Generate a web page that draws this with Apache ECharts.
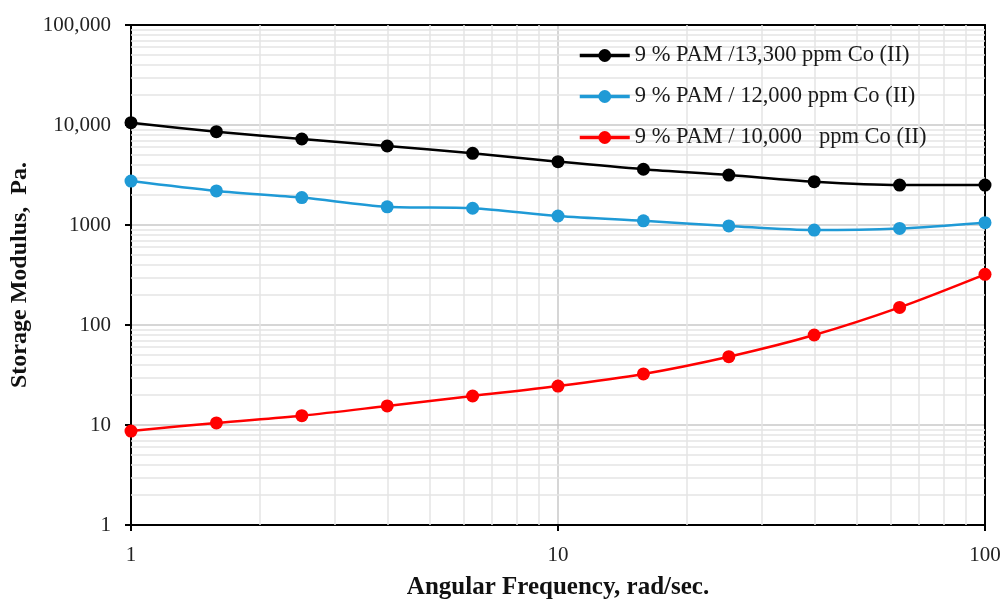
<!DOCTYPE html>
<html>
<head>
<meta charset="utf-8">
<script src="https://cdn.jsdelivr.net/npm/echarts@6/dist/echarts.min.js"></script>
<style>
  html, body { margin: 0; padding: 0; background: #fff; }
  #chart { width: 1003px; height: 599px; }
</style>
</head>
<body>
<div id="chart"></div>
<script>
// Angular frequency (rad/s), five points per decade
const frequency = [1, 1.585, 2.512, 3.981, 6.31, 10, 15.85, 25.12, 39.81, 63.1, 100];

// Storage modulus G' (Pa) for each gel formulation
const pam13300 = [10540, 8570, 7240, 6170, 5210, 4300, 3610, 3160, 2710, 2510, 2510];
const pam12000 = [2750, 2190, 1880, 1520, 1470, 1230, 1100, 980, 890, 925, 1055];
const pam10000 = [8.7, 10.5, 12.4, 15.5, 19.5, 24.5, 32.4, 48.2, 79.4, 150, 321];

const seriesNames = [
  '9 % PAM /13,300 ppm Co (II)',
  '9 % PAM / 12,000 ppm Co (II)',
  '9 % PAM / 10,000   ppm Co (II)'
];
const seriesColors = ['#000000', '#1f9ad6', '#ff0000'];

// Tick labels on the modulus axis
const yTickValues = [1, 10, 100, 1000, 10000, 100000];
const yTickLabels = ['1', '10', '100', '1000', '10,000', '100,000'];

// Minor gridline positions (2..9 within each decade)
const xMinor = [];
[1, 10].forEach(d => { for (let k = 2; k <= 9; k++) xMinor.push(k * d); });
const yMinor = [];
[1, 10, 100, 1000, 10000].forEach(d => { for (let k = 2; k <= 9; k++) yMinor.push(k * d); });

const serif = '"Liberation Serif", "DejaVu Serif", serif';

function pairs(values) {
  return frequency.map((f, i) => [f, values[i]]);
}

const chart = echarts.init(document.getElementById('chart'), null, { renderer: 'canvas' });

const lineSeries = [pam13300, pam12000, pam10000].map((vals, i) => ({
  name: seriesNames[i],
  type: 'line',
  data: pairs(vals),
  smooth: 0.3,
  symbol: 'circle',
  symbolSize: 13,
  z: 5,
  itemStyle: { color: seriesColors[i] },
  lineStyle: { color: seriesColors[i], width: 2.5 }
}));

// Minor gridlines drawn through the axes' own scales
const gridSeries = {
  name: 'grid',
  type: 'line',
  data: [],
  silent: true,
  z: 1,
  markLine: {
    silent: true,
    z: 1,
    symbol: ['none', 'none'],
    label: { show: false },
    animation: false,
    lineStyle: { color: '#e4e4e4', width: 1.5, type: 'solid' },
    data: xMinor.map(v => ({ xAxis: v })).concat(yMinor.map(v => ({ yAxis: v })))
  }
};

// Plain axis lines closing the frame on the top and right
const frameAxis = {
  type: 'log', logBase: 10,
  axisLine: { show: true, onZero: false, lineStyle: { color: '#000', width: 2 } },
  axisTick: { show: false },
  axisLabel: { show: false },
  splitLine: { show: false }
};

chart.setOption({
  animation: false,
  backgroundColor: '#ffffff',
  grid: { left: 131, right: 18, top: 25, bottom: 74, containLabel: false, outerBoundsMode: 'none' },
  legend: {
    data: seriesNames,
    orient: 'vertical',
    left: 573,
    top: 39,
    z: 10,
    itemWidth: 50,
    itemHeight: 16,
    itemGap: 18,
    lineStyle: { width: 3.5 },
    textStyle: { fontFamily: serif, fontSize: 22.5, lineHeight: 23, color: '#1a1a1a' }
  },
  xAxis: [{
    type: 'log',
    logBase: 10,
    min: 1,
    max: 100,
    name: 'Angular Frequency, rad/sec.',
    nameLocation: 'middle',
    nameGap: 50,
    nameTextStyle: { fontFamily: serif, fontSize: 25, fontWeight: 'bold', color: '#111' },
    axisLine: { show: true, lineStyle: { color: '#000', width: 2 } },
    axisTick: { show: true, length: 6, lineStyle: { color: '#000', width: 2 } },
    axisLabel: { fontFamily: serif, fontSize: 21, color: '#222', margin: 20 },
    splitLine: { show: true, lineStyle: { color: '#c8c8c8', width: 1.5 } }
  }, Object.assign({ position: 'top', min: 1, max: 100 }, frameAxis)],
  yAxis: [{
    type: 'log',
    logBase: 10,
    min: 1,
    max: 100000,
    name: 'Storage Modulus,  Pa.',
    nameLocation: 'middle',
    nameGap: 96,
    nameTextStyle: { fontFamily: serif, fontSize: 24, fontWeight: 'bold', color: '#111' },
    axisLine: { show: true, lineStyle: { color: '#000', width: 2 } },
    axisTick: { show: true, length: 6, lineStyle: { color: '#000', width: 2 } },
    axisLabel: {
      fontFamily: serif, fontSize: 21, color: '#222', margin: 20,
      formatter: v => {
        const idx = yTickValues.findIndex(t => Math.abs(t - v) / t < 1e-6);
        return idx >= 0 ? yTickLabels[idx] : '';
      }
    },
    splitLine: { show: true, lineStyle: { color: '#c8c8c8', width: 1.5 } }
  }, Object.assign({ position: 'right', min: 1, max: 100000 }, frameAxis)],
  series: [gridSeries].concat(lineSeries)
});
</script>
</body>
</html>
